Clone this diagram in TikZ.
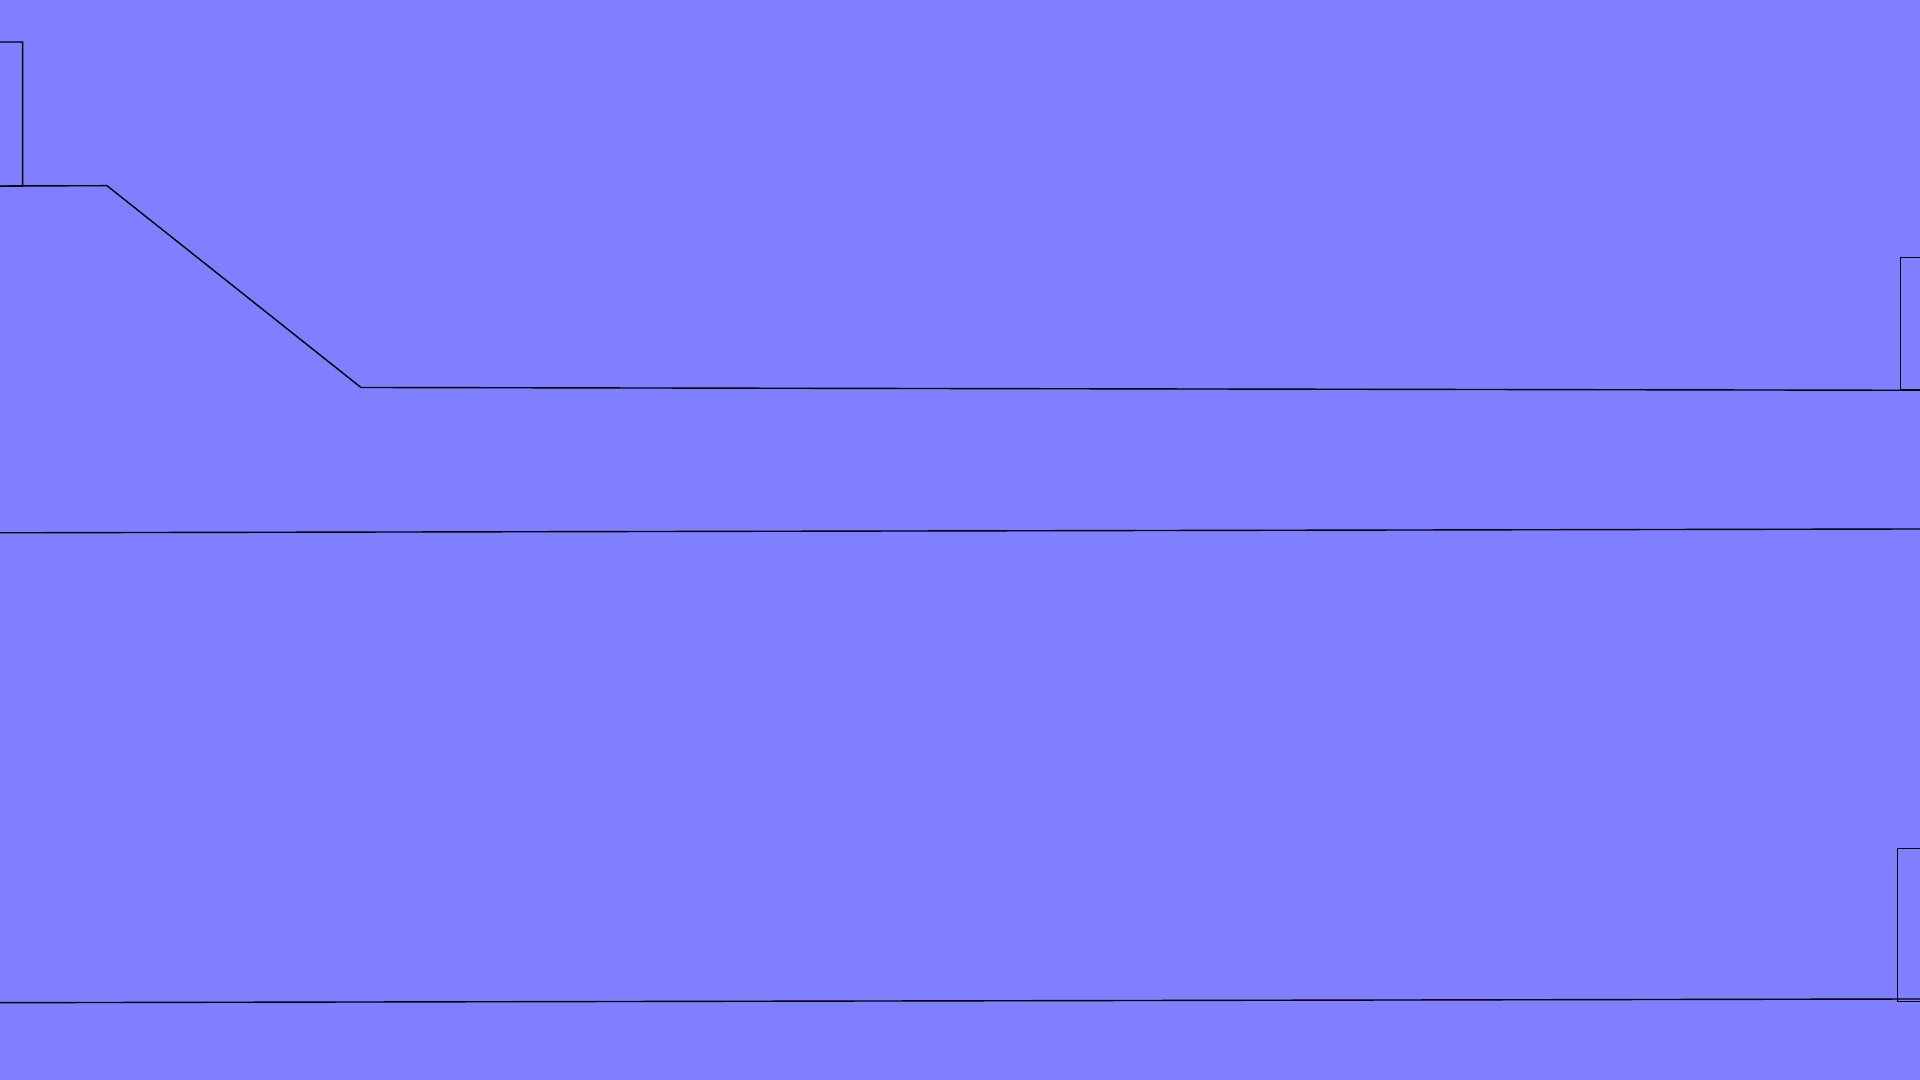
\documentclass[tikz,border=0pt]{standalone}
\definecolor{bgblue}{RGB}{127,127,255}
\begin{document}
\begin{tikzpicture}[x=0.01cm,y=-0.01cm,line width=0.4pt,
  edge/.style={draw=black,line join=miter}]
\useasboundingbox (0,0) rectangle (1920,1080);
\fill[bgblue] (0,0) rectangle (1920,1080);
\clip (0,0) rectangle (1920,1080);
% top-left box
\draw[edge] (-10,42) -- (22.7,42) -- (22.7,186) -- (-10,186.5);
% upper profile line
\coordinate (p0) at (0,186);
\coordinate (p1) at (107,185.7);
\coordinate (p2) at (361,387.5);
\coordinate (p3) at (1920,390.3);
\draw[edge] (p0) -- (p1) -- (p2) -- (p3);
% upper-right box
\draw[edge] (1930,257.7) -- (1900.7,257.7) -- (1900.7,390) -- (1930,390);
% middle line
\coordinate (m0) at (0,532.8);
\coordinate (m1) at (1920,529);
\draw[edge] (m0) -- (m1);
% bottom line
\coordinate (b0) at (0,1002.7);
\coordinate (b1) at (1920,999);
\draw[edge] (b0) -- (b1);
% bottom-right box
\draw[edge] (1930,848.7) -- (1897.7,848.7) -- (1897.7,1001.3) -- (1930,1001.3);
\end{tikzpicture}
\end{document}
